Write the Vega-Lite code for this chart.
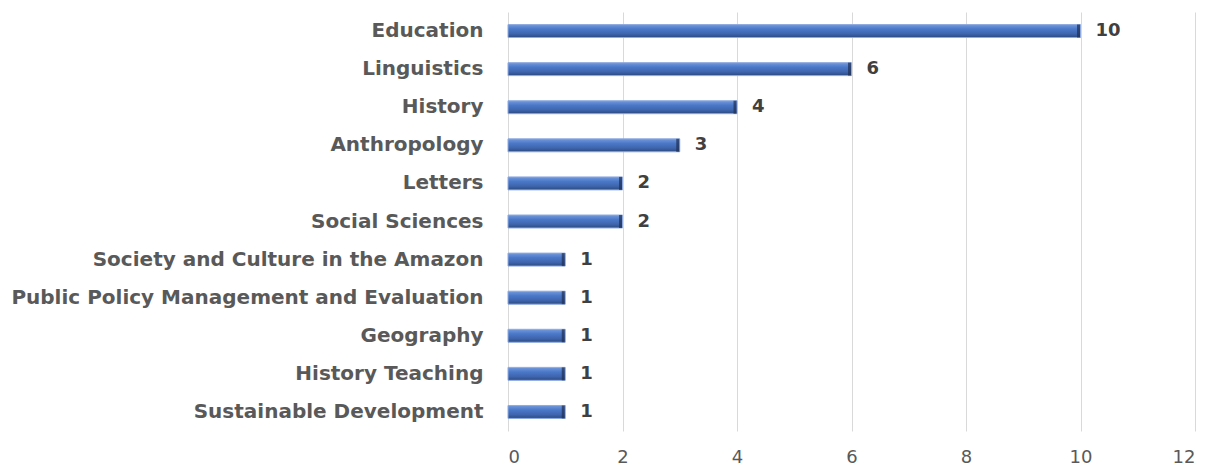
{
  "$schema": "https://vega.github.io/schema/vega-lite/v6.json",
  "autosize": {"type": "none"},
  "padding": {"left": 508, "top": 12, "right": 14, "bottom": 34},
  "width": 687,
  "height": 419,
  "background": "white",
  "config": {"view": {"stroke": null}},
  "data": {
    "values": [
      {"program": "Education", "count": 10},
      {"program": "Linguistics", "count": 6},
      {"program": "History", "count": 4},
      {"program": "Anthropology", "count": 3},
      {"program": "Letters", "count": 2},
      {"program": "Social Sciences", "count": 2},
      {"program": "Society and Culture in the Amazon", "count": 1},
      {"program": "Public Policy Management and Evaluation", "count": 1},
      {"program": "Geography", "count": 1},
      {"program": "History Teaching", "count": 1},
      {"program": "Sustainable Development", "count": 1}
    ]
  },
  "encoding": {
    "y": {
      "field": "program",
      "type": "nominal",
      "sort": null,
      "scale": {"paddingInner": 0.66, "paddingOuter": 0.33},
      "axis": {
        "title": null,
        "domain": false,
        "ticks": false,
        "grid": false,
        "labelPadding": 25,
        "labelFont": "DejaVu Sans",
        "labelFontSize": 20,
        "labelFontWeight": "bold",
        "labelColor": "#595959",
        "labelLimit": 600
      }
    },
    "x": {
      "field": "count",
      "type": "quantitative",
      "scale": {"domain": [0, 12]},
      "axis": {
        "title": null,
        "domain": false,
        "ticks": false,
        "values": [0, 2, 4, 6, 8, 10, 12],
        "gridColor": "#d9d9d9",
        "gridWidth": 1,
        "labelPadding": 17,
        "labelFont": "DejaVu Sans",
        "labelFontSize": 18,
        "labelColor": "#595959"
      }
    }
  },
  "layer": [
    {
      "mark": {
        "type": "bar",
        "color": {
          "gradient": "linear",
          "x1": 0, "y1": 0, "x2": 0, "y2": 1,
          "stops": [
            {"offset": 0, "color": "#7399dc"},
            {"offset": 0.35, "color": "#4a78c8"},
            {"offset": 0.7, "color": "#3f66ae"},
            {"offset": 1, "color": "#2c4a82"}
          ]
        },
        "stroke": "#8eaadf",
        "strokeWidth": 1
      }
    },
    {
      "mark": {"type": "tick", "color": "#1f2f52", "thickness": 3, "orient": "vertical", "size": 13, "xOffset": -2}
    },
    {
      "mark": {
        "type": "text",
        "align": "left",
        "dx": 15,
        "font": "DejaVu Sans",
        "fontSize": 18,
        "fontWeight": "bold",
        "color": "#404040"
      },
      "encoding": {"text": {"field": "count", "type": "quantitative"}}
    }
  ]
}
